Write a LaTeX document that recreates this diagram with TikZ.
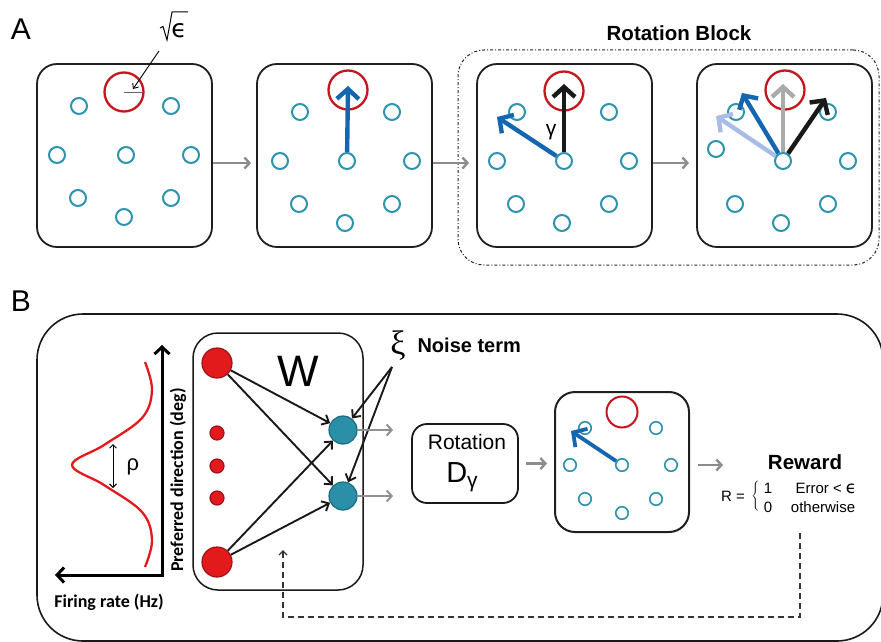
\documentclass[tikz,border=0pt]{standalone}
\usepackage{fontspec}
\setmainfont{Liberation Sans}
\newfontfamily\labfont{Carlito}
\newfontfamily\symfont{DejaVu Sans}
\newfontfamily\serifgreek{Liberation Serif}
\usetikzlibrary{arrows.meta}

\definecolor{tealc}{HTML}{2E93AE}
\definecolor{tealfill}{HTML}{2B8FA8}
\definecolor{tealedge}{HTML}{1B6B80}
\definecolor{redc}{HTML}{C4161E}
\definecolor{neured}{HTML}{E31A1C}
\definecolor{neuedge}{HTML}{A01218}
\definecolor{bluec}{HTML}{1566B0}
\definecolor{lightblue}{HTML}{A9BCE6}
\definecolor{flowgray}{HTML}{8C8C8C}
\definecolor{ghost}{HTML}{AAAAAA}

\newcommand\fs[1]{\fontsize{#1}{#1}\selectfont}

\tikzset{
  panel/.style={draw=black!88, line width=1.8pt, rounded corners=20pt, inner sep=0pt},
  ring/.style={circle, draw=tealc, fill=white, line width=2pt, minimum size=16pt, inner sep=0pt},
  sring/.style={circle, draw=tealc, fill=white, line width=1.6pt, minimum size=12.5pt, inner sep=0pt},
  target/.style={circle, draw=redc, line width=2.3pt, minimum size=39pt, inner sep=0pt},
  vec/.style={line width=4.4pt, -{Straight Barb[length=10pt,width=22pt]}},
  flow/.style={draw=flowgray, line width=2.4pt, -{Straight Barb[length=5pt,width=11pt]}},
  wire/.style={draw=black!90, line width=1.9pt, -{Straight Barb[length=6pt,width=11pt]}},
  inneuron/.style={circle, fill=neured, draw=neuedge, line width=1.2pt, inner sep=0pt},
  outneuron/.style={circle, fill=tealfill, draw=tealedge, line width=1.2pt, minimum size=28pt, inner sep=0pt},
  clock/.pic={
    \node[ring] (-hub) at (0,0) {};
    \node[ring] (-ul) at (-47,-49) {};
    \node[ring] (-ur) at (45,-49) {};
    \node[ring] (-r) at (65,0) {};
    \node[ring] (-dr) at (45,43) {};
    \node[ring] (-d) at (-2,62) {};
    \node[ring] (-dl) at (-48,43) {};
  }
}

\begin{document}
\begin{tikzpicture}[x=1pt, y=-1pt]
\useasboundingbox (0,0) rectangle (881,642);

% ---------- Panel A ----------
\node[font=\fs{30}] (labA) at (21,29) {A};

\node[panel, minimum width=175pt, minimum height=183pt] (b1) at (124.5,155.5) {};
\node[panel, minimum width=175pt, minimum height=183pt] (b2) at (344.5,155.5) {};
\node[panel, minimum width=175pt, minimum height=183pt] (b3) at (564.5,155.5) {};
\node[panel, minimum width=175pt, minimum height=183pt] (b4) at (784.5,155.5) {};

% rotation block frame
\node[draw=black!85, line width=1pt, dash dot, rounded corners=26pt,
      minimum width=421pt, minimum height=215pt, inner sep=0pt] (rb) at (668.5,157.5) {};
\node[font=\bfseries\fs{20.5}] (rbl) at (679,33) {Rotation Block};

% box 1: targets and radius annotation
\pic (c1) at (126,155) {clock};
\node[ring] (c1-l) at (57,155) {};
\node[target] (t1) at (124,92) {};
\coordinate (t1r) at (143,92);
\draw[draw=black!60, line width=1pt] (t1.center) -- (t1r);
% square root of epsilon: glyph plus a drawn radical sign
\node[font=\symfont\fs{25}, inner sep=0pt] (eps) at (179,31) {ϵ};
\coordinate (rad1) at (160,28);
\coordinate (rad2) at (163,26.5);
\coordinate (rad3) at (167,40);
\coordinate (rad4) at (172,12);
\coordinate (rad5) at (188,12);
\draw[line width=1pt, line join=miter] (rad1) -- (rad2) -- (rad3) -- (rad4) -- (rad5);
\coordinate (epsfoot) at (159,51);
\draw[line width=0.9pt, -{Straight Barb[length=4pt,width=7pt]}] (epsfoot) -- (133,89);

% box 2
\pic (c2) at (347,161) {clock};
\node[ring] (c2-l) at (280,161) {};
\node[target] (t2) at (348,90) {};
\coordinate (v2) at (348,86);
\draw[vec, bluec] (c2-hub) -- (v2);

% box 3
\pic (c3) at (564,161) {clock};
\node[ring] (c3-l) at (497,161) {};
\node[target] (t3) at (564,91) {};
\coordinate (v3k) at (564,84);
\coordinate (v3b) at (497,117);
\draw[vec, black!90] (c3-hub) -- (v3k);
\draw[vec, bluec] (c3-hub) -- (v3b);
\node[font=\fs{21}] (gam) at (551,132) {γ};

% box 4
\pic (c4) at (783,161) {clock};
\node[ring] (c4-l) at (716,149) {};
\node[target] (t4) at (785,90) {};
\coordinate (v4g) at (783,84);
\coordinate (v4l) at (716,116);
\coordinate (v4b) at (742,93);
\coordinate (v4k) at (826,98);
\draw[vec, ghost] (c4-hub) -- (v4g);
\draw[vec, lightblue] (c4-hub) -- (v4l);
\draw[vec, bluec] (c4-hub) -- (v4b);
\draw[vec, black!90] (c4-hub) -- (v4k);

% flow between frames
\draw[flow] ([yshift=-7.5pt]b1.east) -- ([xshift=-5pt,yshift=-7.5pt]b2.west);
\draw[flow] ([yshift=-7.5pt]b2.east) -- ([xshift=-7pt,yshift=-7.5pt]b3.west);
\draw[flow] ([yshift=-7.5pt]b3.east) -- ([xshift=-7pt,yshift=-7.5pt]b4.west);

% ---------- Panel B ----------
\node[font=\fs{30}] (labB) at (21,301) {B};
\node[draw=black!90, line width=1.6pt, rounded corners=46pt, inner sep=0pt,
      minimum width=846pt, minimum height=327pt] (bigB) at (460,477.5) {};

% tuning curve axes
\coordinate (axtop) at (162,345);
\coordinate (axcorner) at (162,575);
\coordinate (axleft) at (55,575);
\draw[line width=3pt, {Straight Barb[length=7pt,width=15pt]}-{Straight Barb[length=7pt,width=15pt]}]
  (axtop) -- (axcorner) -- (axleft);
\draw[neured, line width=2.3pt] plot[smooth, tension=0.6] coordinates {
  (145,362) (152,390) (142,418) (104,445) (72,465) (104,485) (142,512) (152,540) (145,567)};
\coordinate (rhoA) at (113,444);
\coordinate (rhoB) at (113,488);
\draw[line width=0.9pt, {Straight Barb[length=3.5pt,width=7pt]}-{Straight Barb[length=3.5pt,width=7pt]}] (rhoA) -- (rhoB);
\node[font=\fs{22}] (rho) at (133,467) {ρ};
\node[font=\labfont\bfseries\fs{18}, rotate=90] (pdir) at (178,480) {Preferred direction (deg)};
\node[font=\labfont\bfseries\fs{18}] (frate) at (109,602) {Firing rate (Hz)};

% network box
\node[draw=black!90, line width=1.5pt, rounded corners=25pt, inner sep=0pt,
      minimum width=170pt, minimum height=257pt] (wbox) at (278,461.5) {};
\node[font=\fs{44}] (wlab) at (298,371) {W};

\node[inneuron, minimum size=30pt] (n1) at (217,363) {};
\node[inneuron, minimum size=14pt] (d1) at (217,433) {};
\node[inneuron, minimum size=14pt] (d2) at (217,466) {};
\node[inneuron, minimum size=14pt] (d3) at (217,498) {};
\node[inneuron, minimum size=30pt] (n2) at (217,562) {};
\node[outneuron] (o1) at (343,430) {};
\node[outneuron] (o2) at (343,496) {};

\draw[wire] (n1) -- (o1);
\draw[wire] (n1) -- (o2);
\draw[wire] (n2) -- (o1);
\draw[wire] (n2) -- (o2);

% noise input
\node[font=\serifgreek\fs{34}] (xi) at (398,346) {ξ};
\node[font=\bfseries\fs{20}, anchor=west] (noise) at (414,345) {Noise term};
\coordinate (xifoot) at (392,367);
\draw[wire] (xifoot) -- (o1);
\draw[wire] (xifoot) -- (o2);

% outputs
\coordinate (o1out) at (393,430);
\coordinate (o2out) at (393,496);
\draw[flow, line width=2pt, draw=ghost!85!black] (o1) -- (o1out);
\draw[flow, line width=2pt, draw=ghost!85!black] (o2) -- (o2out);

% rotation operator
\node[draw=black!90, line width=1.8pt, rounded corners=15pt, inner sep=0pt,
      minimum width=106pt, minimum height=79pt] (rot) at (465,463.5) {};
\node[font=\fs{21}] (rottxt) at (467,442) {Rotation};
\node[font=\fs{29}] (dg) at (462,477) {D\raisebox{-5pt}{\fs{21}γ}};

% resulting reach
\node[panel, line width=2pt, minimum width=134pt, minimum height=140pt] (cb) at (622,462) {};
\draw[flow] ([xshift=7pt]rot.east) -- ([xshift=-7pt]rot.east -| cb.west);
\node[sring] (cb-hub) at (622,465) {};
\node[sring] (cb-ul) at (585,428) {};
\node[sring] (cb-ur) at (656,428) {};
\node[sring] (cb-l) at (570,465) {};
\node[sring] (cb-r) at (671,465) {};
\node[sring] (cb-dl) at (585,499) {};
\node[sring] (cb-dr) at (656,499) {};
\node[sring] (cb-d) at (622,513) {};
\node[circle, draw=redc, line width=2pt, minimum size=31pt, inner sep=0pt] (cb-t) at (622,412) {};
\coordinate (vb) at (571,431);
\draw[vec, bluec, line width=3.8pt] (cb-hub) -- (vb);

% reward
\coordinate (rwin) at (723,465);
\draw[flow] ([xshift=8pt]cb.east |- cb-hub) -- (rwin);
\node[font=\bfseries\fs{20.5}] (rw) at (805,462) {Reward};
\node[font=\fs{15}] (req) at (733,496) {R =};
\node[font=\fs{15}] (brace) at (756,497) {$\left\{\vrule height 13pt depth 13pt width 0pt\right.$};
\node[font=\fs{15}] (one) at (768,488) {1};
\node[font=\fs{15}] (zero) at (768,507) {0};
\node[font=\fs{15}, anchor=west] (err) at (792,488) {Error < {\symfont\fs{17}ϵ}};
\node[font=\fs{15}] (oth) at (823,507) {otherwise};

% feedback to weights
\coordinate (fb1) at (800,533);
\coordinate (fb2) at (800,617);
\coordinate (fb3) at (283,617);
\coordinate (fb4) at (283,550);
\draw[black!80, line width=1.4pt, dash pattern=on 6pt off 4pt,
      -{Straight Barb[length=4pt,width=8pt]}] (fb1) -- (fb2) -- (fb3) -- (fb4);
\end{tikzpicture}
\end{document}
